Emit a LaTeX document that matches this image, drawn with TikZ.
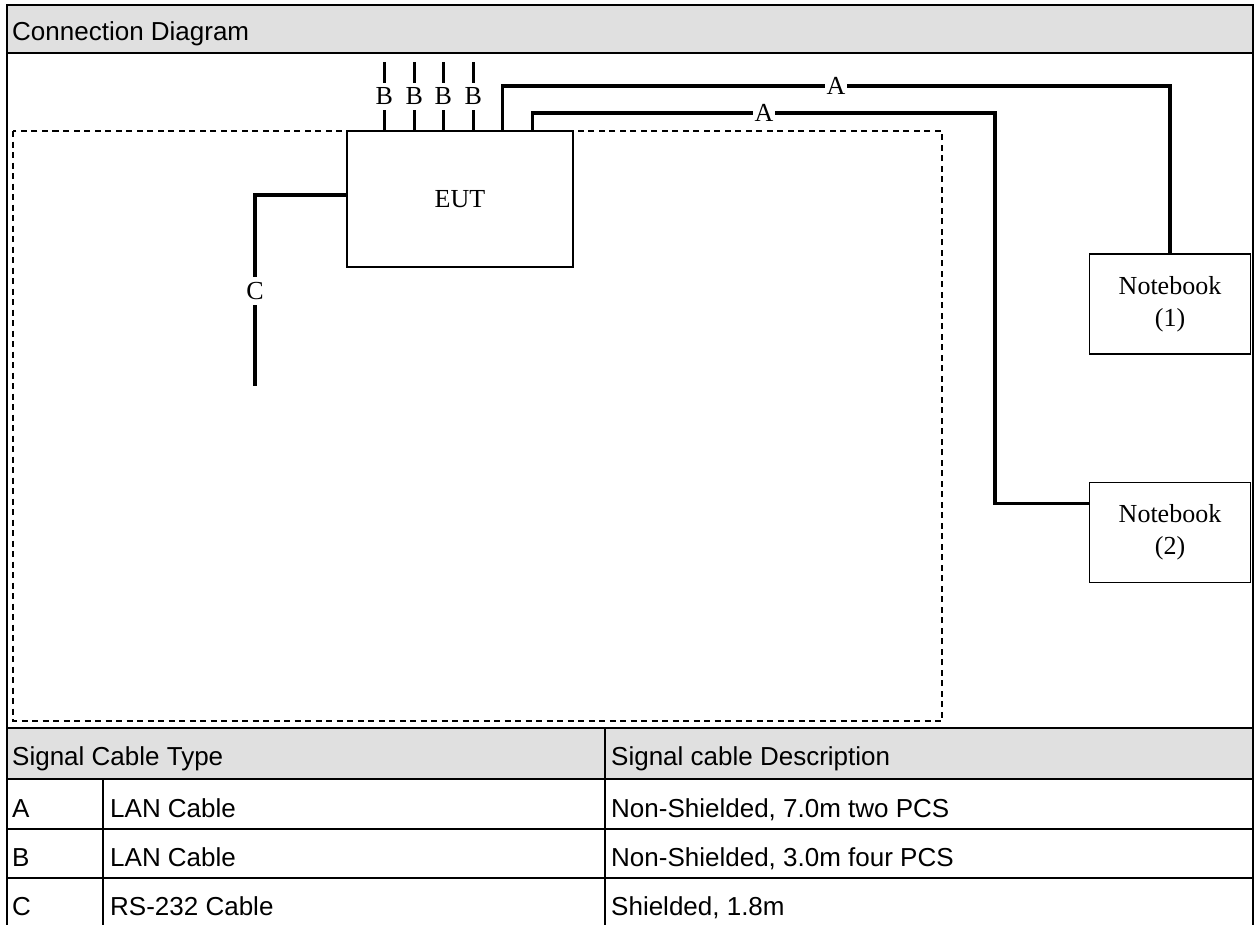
\documentclass[tikz,border=0pt]{standalone}
\usepackage{fontspec}
\setmainfont{Liberation Serif}
\newfontfamily\arialfont{Liberation Sans}
\usetikzlibrary{positioning,calc}
\definecolor{hdrgrey}{HTML}{E0E0E0}

\begin{document}
\begin{tikzpicture}[x=1pt, y=-1pt,
  eutbox/.style={draw=black, line width=1.4pt, minimum width=226pt, minimum height=136pt,
                 inner sep=0pt, font=\fontsize{26}{31}\selectfont},
  nbbox/.style={draw=black, line width=1.4pt, minimum width=161pt, minimum height=100pt,
                inner sep=0pt, align=center, font=\fontsize{26}{32}\selectfont},
  cable/.style={line width=3.2pt},
  lbl/.style={fill=white, inner xsep=2pt, inner ysep=5pt, font=\fontsize{26}{31}\selectfont},
  cell/.style={anchor=base west, inner sep=0pt, font=\arialfont\fontsize{26}{31}\selectfont},
  rule/.style={line width=2.2pt},
  zone/.style={dash pattern=on 6pt off 4.5pt, line width=1.3pt}]
  \useasboundingbox (0,0) rectangle (1260,924);

  % frame, header rows and table grid
  \fill[hdrgrey] (7,5) rectangle (1253,53);
  \fill[hdrgrey] (7,728) rectangle (1253,779);
  \draw[rule] (7,925) -- (7,5) -- (1253,5) -- (1253,925);
  \foreach \y in {53,728,779,829,878}
    \draw[rule] (7,\y) -- (1253,\y);
  \draw[rule] (605,728) -- (605,925);
  \draw[rule] (103,779) -- (103,925);
  \node[cell] (title) at (12,40) {Connection Diagram};

  % test area
  \draw[zone] (13,131) rectangle (942,721);

  \node[eutbox] (eut) at (460,199) {EUT};
  \node[nbbox] (nb1) at (1170,304) {Notebook\\(1)};
  \node[nbbox, below=127pt of nb1] (nb2) {Notebook\\(2)};

  % cables
  \coordinate (a1lvl) at (0,86);
  \coordinate (a2bend) at (995,113);
  \coordinate (cend) at (255,386);
  \draw[cable] ([xshift=156pt]eut.north west) |- (nb1.north |- a1lvl) -- (nb1.north);
  \draw[cable] ([xshift=186pt]eut.north west) |- (a2bend) |- ([yshift=-22pt]nb2.north west);
  \draw[cable] ([yshift=4pt]eut.west) -| (cend);
  \foreach \dx in {38,68,97,127}
    \draw[cable] ([xshift=\dx pt]eut.north west) -- ++(0,-68) node[lbl, midway] {B};
  \node[lbl] (la1) at (836,86) {A};
  \node[lbl] (la2) at (764,113) {A};
  \node[lbl] (lc) at (255,291) {C};

  % cable table
  \node[cell] (hdtype) at (12,765) {Signal Cable Type};
  \node[cell] (hddesc) at (611,765) {Signal cable Description};
  \node[cell] (ka) at (12,817) {A};
  \node[cell] (ta) at (110,817) {LAN Cable};
  \node[cell] (da) at (611,817) {Non-Shielded, 7.0m two PCS};
  \node[cell] (kb) at (12,866) {B};
  \node[cell] (tb) at (110,866) {LAN Cable};
  \node[cell] (db) at (611,866) {Non-Shielded, 3.0m four PCS};
  \node[cell] (kc) at (12,915) {C};
  \node[cell] (tc) at (110,915) {RS-232 Cable};
  \node[cell] (dc) at (611,915) {Shielded, 1.8m};
\end{tikzpicture}
\end{document}
